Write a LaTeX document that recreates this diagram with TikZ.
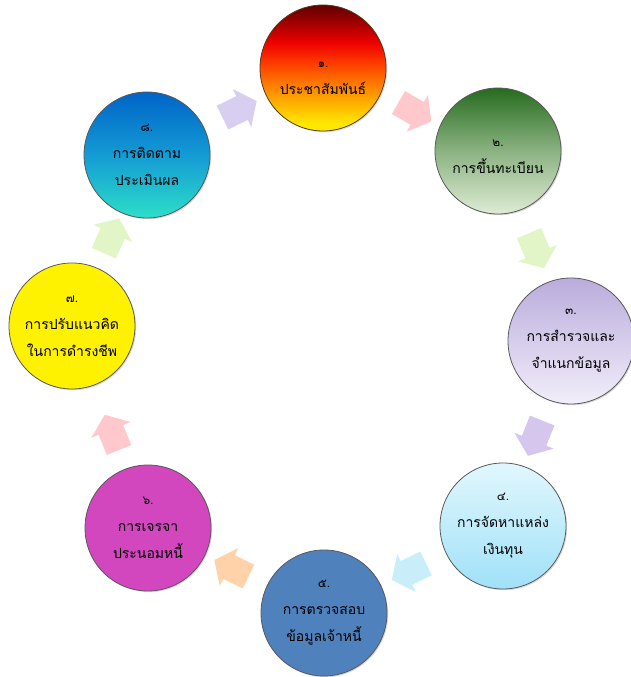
\documentclass[tikz,border=0pt]{standalone}
\usepackage{fontspec}
\newfontfamily\thaifont[Script=Thai]{Loma}
\usetikzlibrary{shapes.arrows,shadows,calc}
\definecolor{fy}{RGB}{255,232,0}
\definecolor{fo}{RGB}{255,150,0}
\definecolor{fr2}{RGB}{255,60,0}
\definecolor{fr}{RGB}{238,0,0}
\definecolor{fd}{RGB}{95,0,0}
\pgfdeclareverticalshading{fireshade}{100bp}{color(0bp)=(fy); color(28bp)=(fy); color(40bp)=(fo); color(52bp)=(fr2); color(60bp)=(fr); color(75bp)=(fd); color(100bp)=(fd)}
\definecolor{gtop}{RGB}{38,108,30}
\definecolor{gbot}{RGB}{222,236,212}
\definecolor{ltop}{RGB}{186,172,220}
\definecolor{lbot}{RGB}{242,238,250}
\definecolor{ctop}{RGB}{225,247,253}
\definecolor{cbot}{RGB}{160,225,248}
\definecolor{sblue}{RGB}{79,129,189}
\definecolor{mag}{RGB}{210,70,190}
\definecolor{btop}{RGB}{0,100,200}
\definecolor{bmid}{RGB}{20,155,212}
\definecolor{bbot}{RGB}{45,222,200}
\definecolor{apink}{RGB}{255,200,205}
\definecolor{agreen}{RGB}{226,245,198}
\definecolor{alav}{RGB}{212,198,236}
\definecolor{acyan}{RGB}{200,238,250}
\definecolor{apeach}{RGB}{255,210,170}
\definecolor{alav2}{RGB}{216,206,240}
\tikzset{
  circ/.style={circle, minimum size=126pt, inner sep=0pt, draw=black!65, line width=0.8pt,
    drop shadow={shadow xshift=1.2pt, shadow yshift=-1.2pt, opacity=0.3},
    align=center, font=\thaifont\fontsize{14}{27}\selectfont, text=black},
  blockarr/.style={single arrow, draw=none, minimum height=38pt,
    inner xsep=0pt, inner ysep=13pt,
    single arrow head extend=8pt, single arrow tip angle=105}
}
\newcommand{\nm}[1]{{\fontsize{12}{27}\selectfont #1}}
\begin{document}
\begin{tikzpicture}[x=1pt,y=1pt]
\useasboundingbox (0,0) rectangle (630,677);
\node[circ, shading=fireshade, draw=black!55!brown] (c1) at (323,609) {\rule{0pt}{26pt}\nm{๑.}\\ประชาสัมพันธ์};
\node[circ, top color=gtop, bottom color=gbot, middle color=gtop!45!gbot] (c2) at (498,526) {\rule{0pt}{18pt}\nm{๒.}\\การขึ้นทะเบียน};
\node[circ, top color=ltop, bottom color=lbot] (c3) at (571,336) {\nm{๓.}\\การสำรวจและ\\จำแนกข้อมูล};
\node[circ, top color=ctop, bottom color=cbot] (c4) at (503,151) {\nm{๔.}\\การจัดหาแหล่ง\\เงินทุน};
\node[circ, fill=sblue] (c5) at (324,64) {\nm{๕.}\\การตรวจสอบ\\ข้อมูลเจ้าหนี้};
\node[circ, fill=mag] (c6) at (148,149) {\nm{๖.}\\การเจรจา\\ประนอมหนี้};
\node[circ, fill=yellow] (c7) at (72,351) {\nm{๗.}\\การปรับแนวคิด\\ในการดำรงชีพ};
\node[circ, top color=btop, bottom color=bbot, middle color=bmid] (c8) at (147,522) {\nm{๘.}\\การติดตาม\\ประเมินผล};
% block arrows
\node[blockarr, fill=apink, rotate=-30] (a12) at ($(c1)!0.5!(c2)$) {};
\node[blockarr, fill=agreen, rotate=-67] (a23) at ($(c2)!0.5!(c3)$) {};
\node[blockarr, fill=alav, rotate=-112] (a34) at ($(c3)!0.5!(c4)$) {};
\node[blockarr, fill=acyan, rotate=-154] (a45) at ($(c4)!0.5!(c5)$) {};
\node[blockarr, fill=apeach, rotate=154] (a56) at ($(c5)!0.5!(c6)$) {};
\node[blockarr, fill=apink, rotate=112] (a67) at ($(c6)!0.45!(c7)$) {};
\node[blockarr, fill=agreen, rotate=66] (a78) at ($(c7)!0.5!(c8)$) {};
\node[blockarr, fill=alav2, rotate=26] (a81) at ($(c8)!0.5!(c1)$) {};
\end{tikzpicture}
\end{document}
